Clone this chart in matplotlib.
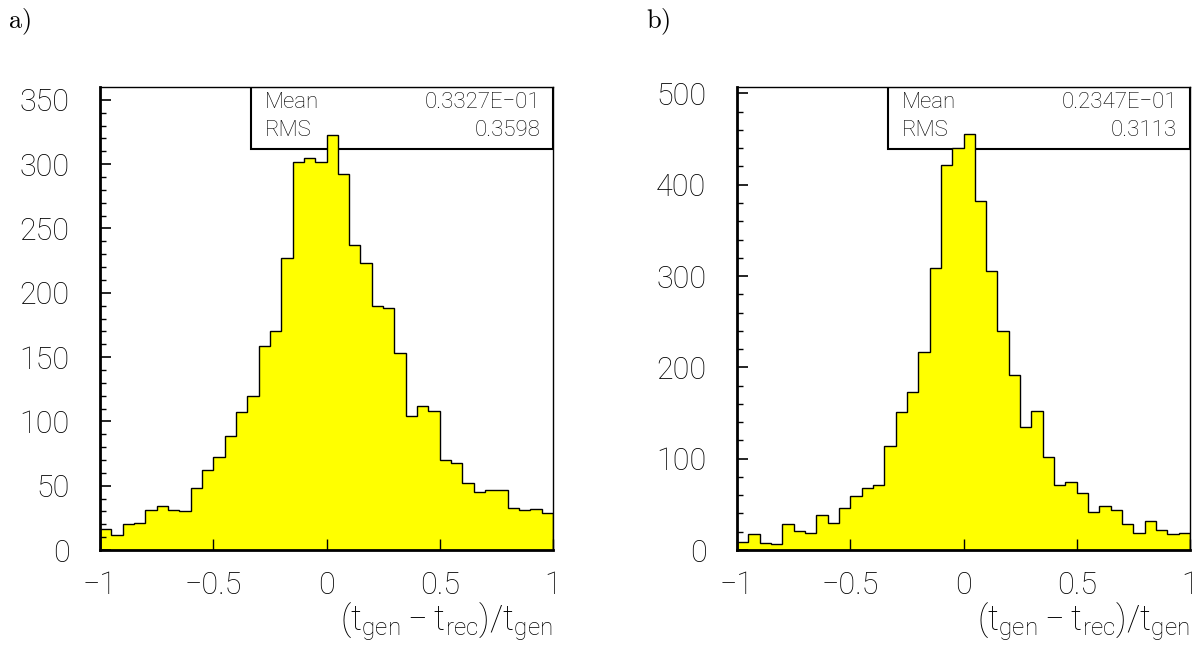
import numpy as np
import matplotlib
matplotlib.use("Agg")
import matplotlib.pyplot as plt

# ---- data (bin contents) ----
bin_low, bin_high, n_bins = -1.0, 1.0, 40

counts_a = [16, 12, 20, 21, 31, 34, 31, 30, 48, 62,
            72, 89, 107, 120, 159, 170, 227, 302, 305, 302,
            323, 292, 237, 223, 190, 188, 153, 104, 112, 108,
            70, 68, 52, 45, 47, 47, 33, 31, 32, 29]
counts_b = [9, 18, 8, 7, 28, 21, 19, 38, 30, 46,
            59, 68, 71, 114, 151, 173, 217, 309, 422, 440,
            456, 382, 305, 240, 192, 135, 152, 102, 71, 75,
            62, 42, 48, 44, 29, 19, 32, 22, 18, 19]

stats_a = {"Mean": "0.3327E\u221201", "RMS": "0.3598"}
stats_b = {"Mean": "0.2347E\u221201", "RMS": "0.3113"}

yticks_a = [0, 50, 100, 150, 200, 250, 300, 350]
yticks_b = [0, 100, 200, 300, 400, 500]
xticks = [-1, -0.5, 0, 0.5, 1]
xtick_labels = ["\u22121", "\u22120.5", "0", "0.5", "1"]
panel_labels = ["a)", "b)"]
xlabel = "$(t_{gen}\u2212t_{rec})/t_{gen}$"

plt.rcParams['font.family'] = ['Roboto', 'DejaVu Sans']
plt.rcParams['font.weight'] = 'light'
plt.rcParams['mathtext.fontset'] = 'custom'
plt.rcParams['mathtext.rm'] = 'Roboto:light'
plt.rcParams['mathtext.it'] = 'Roboto:light'
plt.rcParams['mathtext.default'] = 'rm'

W, H = 1202, 645
fig = plt.figure(figsize=(W / 100, H / 100), dpi=100)

def frac(l, t, r, b):
    return [l / W, 1 - b / H, (r - l) / W, (b - t) / H]

panels = [
    dict(rect=frac(100, 87, 553, 550), counts=counts_a, ymax=360,
         yticks=yticks_a, yminor=10, stats=stats_a, box_left=251, label_x=8),
    dict(rect=frac(737, 87, 1190, 550), counts=counts_b, ymax=507,
         yticks=yticks_b, yminor=20, stats=stats_b, box_left=888, label_x=646),
]

edges = np.linspace(bin_low, bin_high, n_bins + 1)

for i, p in enumerate(panels):
    ax = fig.add_axes(p["rect"])
    ax.set_xlim(bin_low, bin_high)
    ax.set_ylim(0, p["ymax"])

    # stats box (drawn beneath the histogram, as in the original)
    l, b, w, h = p["rect"]
    box_l = p["box_left"] / W
    box_b = 1 - 148.5 / H
    box_r = l + w
    box_t = b + h
    ax.add_patch(plt.Rectangle((box_l, box_b), box_r - box_l, box_t - box_b,
                               transform=fig.transFigure, facecolor="white",
                               edgecolor="black", linewidth=1.5, zorder=0.5))
    rows = list(p["stats"].items())
    for j, (k, v) in enumerate(rows):
        yy = 1 - (103 + 27 * j) / H
        ax.text(box_l + 14 / W, yy, k, fontsize=16, va="center", ha="left",
                color="black", transform=fig.transFigure, zorder=0.6)
        ax.text(box_r - 13 / W, yy, v, fontsize=16, va="center", ha="right",
                color="black", transform=fig.transFigure, zorder=0.6)

    ax.stairs(p["counts"], edges, fill=True, color="#ffff00", zorder=1)
    ax.stairs(p["counts"], edges, fill=False, color="black", linewidth=1.0, zorder=2)

    ax.set_yticks(p["yticks"])
    ax.set_yticks(np.arange(0, p["ymax"], p["yminor"]), minor=True)
    ax.set_xticks(xticks)
    ax.set_xticklabels(xtick_labels)
    ax.tick_params(axis="y", which="major", direction="in", length=8, width=1.2,
                   labelsize=22, pad=22, right=False, labelcolor="black")
    ax.tick_params(axis="y", which="minor", direction="in", length=4, width=1.0, right=False)
    ax.tick_params(axis="x", which="major", direction="in", length=8, width=1.0,
                   labelsize=22, pad=15, top=False, labelcolor="black")
    for s in ["left", "bottom"]:
        ax.spines[s].set_linewidth(2.0)
    for s in ["top", "right"]:
        ax.spines[s].set_linewidth(1.0)
    for s in ax.spines.values():
        s.set_zorder(5)

    ax.set_xlabel(xlabel, fontsize=25, loc="right", labelpad=0)

    fig.text(p["label_x"] / W, 1 - 22 / H, r"$\mathrm{%s}$" % panel_labels[i],
             fontsize=19, va="center", ha="left", math_fontfamily="cm")

fig.savefig("out.png", dpi=100)
